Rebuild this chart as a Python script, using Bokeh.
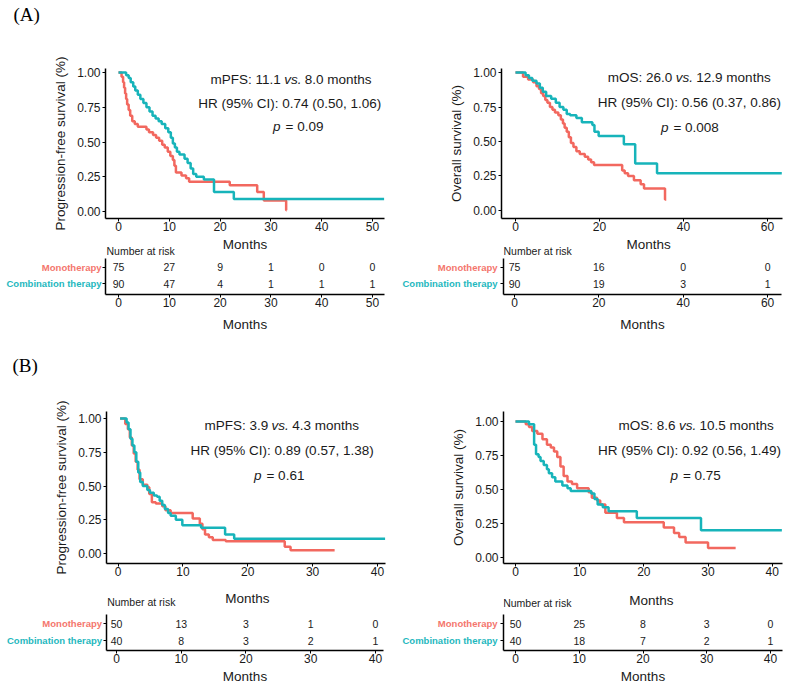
from bokeh.plotting import figure
from bokeh.layouts import column, row
from bokeh.models import FixedTicker, NumeralTickFormatter, Spacer, Range1d
from bokeh.core.properties import value
from bokeh.embed import file_html
from bokeh.resources import INLINE

# ---------------- data ----------------
Y_TICKS = [0, 0.25, 0.5, 0.75, 1.0]
GROUPS = ["Monotherapy", "Combination therapy"]

# (A) progression-free survival
A_PFS_X_TICKS = [0, 10, 20, 30, 40, 50]
A_PFS_MONO_T = [0, 0.6, 0.9, 1.1, 1.3, 1.5, 1.7, 2.0, 2.3, 2.7, 3.2, 3.8, 5.5, 6.0, 6.8, 7.4, 8.0, 8.6, 9.1, 9.7,
                10.2, 10.7, 11.0, 11.3, 12.4, 13.3, 13.9, 21.9, 27.3, 28.6, 33.0, 33.1]
A_PFS_MONO_S = [1.00, 0.97, 0.93, 0.89, 0.85, 0.81, 0.77, 0.73, 0.69, 0.65, 0.63, 0.61, 0.59, 0.57, 0.55, 0.53, 0.51, 0.48, 0.46, 0.43,
                0.40, 0.37, 0.33, 0.28, 0.26, 0.24, 0.215, 0.19, 0.14, 0.08, 0.01, 0.01]
A_PFS_COMB_T = [0, 1.5, 2.0, 2.4, 2.9, 3.3, 3.8, 4.3, 4.9, 5.5, 6.1, 6.7, 7.3, 7.9, 8.5, 9.2, 9.8, 10.3, 10.7, 11.1,
                11.5, 12.0, 13.0, 13.6, 14.2, 14.7, 15.3, 16.8, 18.8, 22.7, 52.3]
A_PFS_COMB_S = [1.00, 0.98, 0.96, 0.93, 0.90, 0.87, 0.84, 0.81, 0.78, 0.75, 0.72, 0.69, 0.67, 0.65, 0.63, 0.60, 0.57, 0.53, 0.49, 0.46,
                0.43, 0.41, 0.38, 0.35, 0.31, 0.27, 0.25, 0.23, 0.14, 0.09, 0.09]
A_PFS_RISK_T = [0, 10, 20, 30, 40, 50]
A_PFS_RISK_MONO = [75, 27, 9, 1, 0, 0]
A_PFS_RISK_COMB = [90, 47, 4, 1, 1, 1]
A_PFS_NOTE = ["mPFS: 11.1", "vs.", "8.0 months", "HR (95% CI): 0.74 (0.50, 1.06)", "p", "= 0.09"]

# (A) overall survival
A_OS_X_TICKS = [0, 20, 40, 60]
A_OS_MONO_T = [0, 1.8, 3.0, 4.2, 5.0, 5.6, 6.1, 6.6, 7.1, 7.6, 8.2, 8.8, 9.4, 10.2, 10.8, 11.3, 11.7, 12.2, 12.7, 13.2,
               13.8, 14.5, 15.3, 16.5, 17.3, 18.0, 18.7, 25.4, 26.0, 26.8, 28.2, 29.8, 30.6, 35.6, 35.9]
A_OS_MONO_S = [1.00, 0.97, 0.95, 0.93, 0.90, 0.88, 0.85, 0.83, 0.80, 0.78, 0.75, 0.73, 0.71, 0.69, 0.66, 0.63, 0.60, 0.57, 0.53, 0.49,
               0.46, 0.43, 0.41, 0.39, 0.37, 0.35, 0.33, 0.29, 0.27, 0.25, 0.22, 0.19, 0.16, 0.08, 0.08]
A_OS_COMB_T = [0, 2.4, 3.2, 4.0, 5.0, 5.8, 6.5, 7.3, 8.5, 9.6, 10.5, 11.4, 12.2, 13.0, 14.5, 15.8, 18.3, 18.8, 19.8, 25.8,
               28.5, 33.7, 63.4]
A_OS_COMB_S = [1.00, 0.98, 0.96, 0.94, 0.92, 0.89, 0.86, 0.83, 0.81, 0.78, 0.75, 0.73, 0.70, 0.69, 0.67, 0.64, 0.62, 0.57, 0.54, 0.48,
               0.34, 0.27, 0.27]
A_OS_RISK_T = [0, 20, 40, 60]
A_OS_RISK_MONO = [75, 16, 0, 0]
A_OS_RISK_COMB = [90, 19, 3, 1]
A_OS_NOTE = ["mOS: 26.0", "vs.", "12.9 months", "HR (95% CI): 0.56 (0.37, 0.86)", "p", "= 0.008"]

# (B) progression-free survival
B_PFS_X_TICKS = [0, 10, 20, 30, 40]
B_PFS_MONO_T = [0.3, 1.1, 1.5, 1.8, 2.1, 2.4, 2.7, 3.0, 3.3, 3.8, 4.5, 4.8, 5.2, 5.8, 6.8, 7.3, 8.1, 11.5, 12.6, 13.0,
                13.4, 14.0, 14.6, 16.6, 25.7, 26.6, 33.4]
B_PFS_MONO_S = [1.00, 0.96, 0.92, 0.86, 0.80, 0.74, 0.68, 0.62, 0.55, 0.51, 0.49, 0.44, 0.38, 0.37, 0.35, 0.32, 0.30, 0.26, 0.22, 0.18,
                0.14, 0.12, 0.10, 0.09, 0.05, 0.025, 0.025]
B_PFS_COMB_T = [0.3, 1.3, 1.6, 1.9, 2.2, 2.5, 2.8, 3.1, 3.4, 3.8, 4.5, 4.9, 5.5, 6.0, 6.4, 6.8, 7.2, 7.7, 8.1, 8.9,
                9.9, 12.8, 16.5, 17.9, 41.2]
B_PFS_COMB_S = [1.00, 0.97, 0.92, 0.85, 0.80, 0.75, 0.68, 0.60, 0.53, 0.50, 0.47, 0.45, 0.43, 0.42, 0.39, 0.36, 0.33, 0.30, 0.28, 0.25,
                0.21, 0.19, 0.14, 0.11, 0.11]
B_PFS_RISK_T = [0, 10, 20, 30, 40]
B_PFS_RISK_MONO = [50, 13, 3, 1, 0]
B_PFS_RISK_COMB = [40, 8, 3, 2, 1]
B_PFS_NOTE = ["mPFS: 3.9", "vs.", "4.3 months", "HR (95% CI): 0.89 (0.57, 1.38)", "p", "= 0.61"]

# (B) overall survival
B_OS_X_TICKS = [0, 10, 20, 30, 40]
B_OS_MONO_T = [0, 1.6, 2.1, 2.6, 3.4, 4.2, 4.9, 5.5, 6.0, 6.5, 7.0, 7.5, 8.1, 8.8, 9.6, 11.4, 11.9, 12.7, 13.2, 14.0,
               15.8, 16.9, 23.1, 24.7, 25.5, 26.5, 30.0, 34.3]
B_OS_MONO_S = [1.00, 0.98, 0.96, 0.93, 0.91, 0.87, 0.83, 0.81, 0.78, 0.74, 0.67, 0.60, 0.56, 0.54, 0.51, 0.48, 0.44, 0.42, 0.39, 0.33,
               0.29, 0.26, 0.22, 0.18, 0.15, 0.11, 0.07, 0.07]
B_OS_COMB_T = [0, 2.1, 2.9, 3.2, 3.6, 3.9, 4.4, 4.9, 5.2, 5.7, 6.2, 7.3, 8.1, 8.6, 11.8, 12.3, 12.8, 13.6, 14.5, 18.9,
               28.9, 41.5]
B_OS_COMB_S = [1.00, 0.98, 0.83, 0.76, 0.74, 0.71, 0.68, 0.65, 0.62, 0.59, 0.56, 0.53, 0.51, 0.49, 0.47, 0.43, 0.39, 0.37, 0.34, 0.29,
               0.20, 0.20]
B_OS_RISK_T = [0, 10, 20, 30, 40]
B_OS_RISK_MONO = [50, 25, 8, 3, 0]
B_OS_RISK_COMB = [40, 18, 7, 2, 1]
B_OS_NOTE = ["mOS: 8.6", "vs.", "10.5 months", "HR (95% CI): 0.92 (0.56, 1.49)", "p", "= 0.75"]

# ---------------- style ----------------
FONT = "Liberation Sans"
SERIF = "Liberation Serif"
INK = "#1a1a1a"
RED = "#F2685F"
TEAL = "#17B4BA"
RED_LBL = "#F4766D"
TEAL_LBL = "#1FB8BE"


def new_fig(w, h, xr, yr, ml=0, mr=0, mt=0, mb=0, axes=True):
    kw = {} if axes else dict(x_axis_location=None, y_axis_location=None)
    p = figure(width=w, height=h, x_range=xr, y_range=yr, output_backend="svg",
               toolbar_location=None, min_border=0, min_border_left=ml, min_border_right=mr,
               min_border_top=mt, min_border_bottom=mb, **kw)
    p.outline_line_color = None
    for g in p.grid:
        g.visible = False
    p.background_fill_color = "white"
    p.border_fill_color = "white"
    return p


def style_axes(p, x_standoff=0, y_standoff=2):
    for ax in p.axis:
        ax.axis_line_color = "black"
        ax.axis_line_width = 1.5
        ax.major_tick_line_color = "black"
        ax.major_tick_line_width = 1
        ax.major_tick_in = 0
        ax.major_tick_out = 3
        ax.minor_tick_line_color = None
        ax.major_label_text_font = FONT
        ax.major_label_text_font_size = "12px"
        ax.major_label_text_color = INK
        ax.axis_label_text_font = FONT
        ax.axis_label_text_font_size = "13.5px"
        ax.axis_label_text_font_style = "normal"
        ax.axis_label_text_color = INK
    for ax in p.xaxis:
        ax.major_label_standoff = x_standoff
    for ax in p.yaxis:
        ax.major_label_standoff = y_standoff


def txt(p, x, y, s, size, align="center", style="normal", color=INK, xoff=0, font=FONT):
    p.text(x=[x], y=[y], text=[s], text_font=value(font), text_font_size=size,
           text_font_style=style, text_color=color, text_align=align,
           text_baseline="middle", x_offset=xoff)


def km_panel(w, h, ml, mr, mt, mb, xr, yr, xticks, ylabel, mono_t, mono_s, comb_t, comb_s, note, pos):
    p = new_fig(w, h, Range1d(*xr), Range1d(*yr), ml, mr, mt, mb)
    p.xaxis.ticker = FixedTicker(ticks=xticks)
    p.yaxis.ticker = FixedTicker(ticks=Y_TICKS)
    p.yaxis.formatter = NumeralTickFormatter(format="0.00")
    p.yaxis.axis_label = ylabel
    style_axes(p)
    p.yaxis.axis_label_standoff = 6
    p.step(mono_t, mono_s, mode="after", line_color=RED, line_width=2.5)
    p.step(comb_t, comb_s, mode="after", line_color=TEAL, line_width=2.5)
    (vx, vy), (hx, hy), (px, py) = pos
    fs = "13.5px"
    txt(p, vx, vy, note[1], fs, "center", "italic")
    txt(p, vx, vy, note[0], fs, "right", xoff=-12)
    txt(p, vx, vy, note[2], fs, "left", xoff=12)
    txt(p, hx, hy, note[3], fs, "center")
    txt(p, px, py, note[4], fs, "right", "italic", xoff=-2.5)
    txt(p, px, py, note[5], fs, "left", xoff=2.5)
    return p


def risk_panel(w_lbl, lbl_x, w_tab, mr, h, mb, xr, yr, ytop, xticks, times, mono, comb,
               lab_standoff, months_xy, nar_xy):
    yrange = Range1d(*yr)
    lab = new_fig(w_lbl, h, Range1d(0, w_lbl), yrange, 0, 0, 0, mb, axes=False)
    lab.text(x=[lbl_x, lbl_x], y=[1, 0], text=GROUPS, text_color=[RED_LBL, TEAL_LBL],
             text_font=value(FONT), text_font_size="9.5px", text_font_style="bold",
             text_align="right", text_baseline="middle")
    tab = new_fig(w_tab, h, Range1d(*xr), yrange, 3, mr, 0, mb)
    tab.xaxis.ticker = FixedTicker(ticks=xticks)
    tab.xaxis.axis_label = "Months"
    tab.yaxis.ticker = FixedTicker(ticks=[0, 1])
    tab.yaxis.bounds = (yr[0], ytop)
    style_axes(tab, 0, 0)
    tab.xaxis.axis_label_standoff = lab_standoff
    tab.yaxis.major_label_overrides = {0: "", 1: ""}
    tab.yaxis.major_label_text_font_size = "0px"
    tab.text(x=times, y=[1] * len(times), text=[str(v) for v in mono], text_font=value(FONT),
             text_font_size="10.5px", text_color=INK, text_align="center", text_baseline="middle")
    tab.text(x=times, y=[0] * len(times), text=[str(v) for v in comb], text_font=value(FONT),
             text_font_size="10.5px", text_color=INK, text_align="center", text_baseline="middle")
    txt(tab, months_xy[0], months_xy[1], "Months", "13.5px")
    txt(tab, nar_xy[0], nar_xy[1], "Number at risk", "10.5px", "left")
    return lab, tab


def caption(w, h, s, x, y_from_top):
    p = new_fig(w, h, Range1d(0, w), Range1d(0, h), axes=False)
    txt(p, x, h - y_from_top, s, "19px", "left", color="black", font=SERIF)
    return p


# ---------------- panels ----------------
cap_a = caption(400, 52, "(A)", 13, 14)
km_a1 = km_panel(400, 186, 105, 16, 16, 20, (-2.56, 52.36), (-0.05, 1.029), A_PFS_X_TICKS,
                 "Progression-free survival (%)", A_PFS_MONO_T, A_PFS_MONO_S, A_PFS_COMB_T, A_PFS_COMB_S,
                 A_PFS_NOTE, [(34.3, 0.95), (33.7, 0.78), (32.4, 0.61)])
km_a2 = km_panel(386, 186, 101, 4, 16, 20, (-3.33, 63.57), (-0.058, 1.029), A_OS_X_TICKS,
                 "Overall survival (%)", A_OS_MONO_T, A_OS_MONO_S, A_OS_COMB_T, A_OS_COMB_S,
                 A_OS_NOTE, [(40.2, 0.966), (41.4, 0.785), (37.0, 0.603)])
lab_a1, tab_a1 = risk_panel(102, 101, 298, 16, 96, 40, (-2.56, 52.36), (-0.645, 2.73), 1.52, A_PFS_X_TICKS,
                            A_PFS_RISK_T, A_PFS_RISK_MONO, A_PFS_RISK_COMB, 7, (24.9, 2.37), (-2.36, 1.95))
lab_a2, tab_a2 = risk_panel(100, 97, 286, 5, 96, 40, (-2.61, 63.3), (-0.645, 2.73), 1.52, A_OS_X_TICKS,
                            A_OS_RISK_T, A_OS_RISK_MONO, A_OS_RISK_COMB, 7, (31.8, 2.37), (-2.6, 1.95))
cap_b = caption(400, 61, "(B)", 12, 31)
km_b1 = km_panel(400, 188, 106, 15, 16, 20, (-1.8, 41.25), (-0.074, 1.052), B_PFS_X_TICKS,
                 "Progression-free survival (%)", B_PFS_MONO_T, B_PFS_MONO_S, B_PFS_COMB_T, B_PFS_COMB_S,
                 B_PFS_NOTE, [(25.0, 0.951), (25.3, 0.765), (22.5, 0.58)])
km_b2 = km_panel(386, 188, 103, 4, 16, 20, (-1.87, 41.6), (-0.044, 1.074), B_OS_X_TICKS,
                 "Overall survival (%)", B_OS_MONO_T, B_OS_MONO_S, B_OS_COMB_T, B_OS_COMB_S,
                 B_OS_NOTE, [(26.8, 0.968), (27.1, 0.784), (25.7, 0.60)])
lab_b1, tab_b1 = risk_panel(103, 101.5, 297, 17, 104, 37, (-1.54, 41.24), (-0.588, 3.353), 1.55, B_PFS_X_TICKS,
                            B_PFS_RISK_T, B_PFS_RISK_MONO, B_PFS_RISK_COMB, 3, (20.2, 2.47), (-1.44, 2.25))
lab_b2, tab_b2 = risk_panel(100, 97, 286, 4, 104, 37, (-1.88, 41.88), (-0.588, 3.353), 1.55, B_OS_X_TICKS,
                            B_OS_RISK_T, B_OS_RISK_MONO, B_OS_RISK_COMB, 3, (21.3, 2.35), (-1.93, 2.18))

layout = column(
    row(cap_a, Spacer(width=386, height=52)),
    row(km_a1, km_a2),
    row(lab_a1, tab_a1, lab_a2, tab_a2),
    row(cap_b, Spacer(width=386, height=61)),
    row(km_b1, km_b2),
    row(lab_b1, tab_b1, lab_b2, tab_b2),
)

open("out.html", "w").write(file_html(layout, INLINE))
